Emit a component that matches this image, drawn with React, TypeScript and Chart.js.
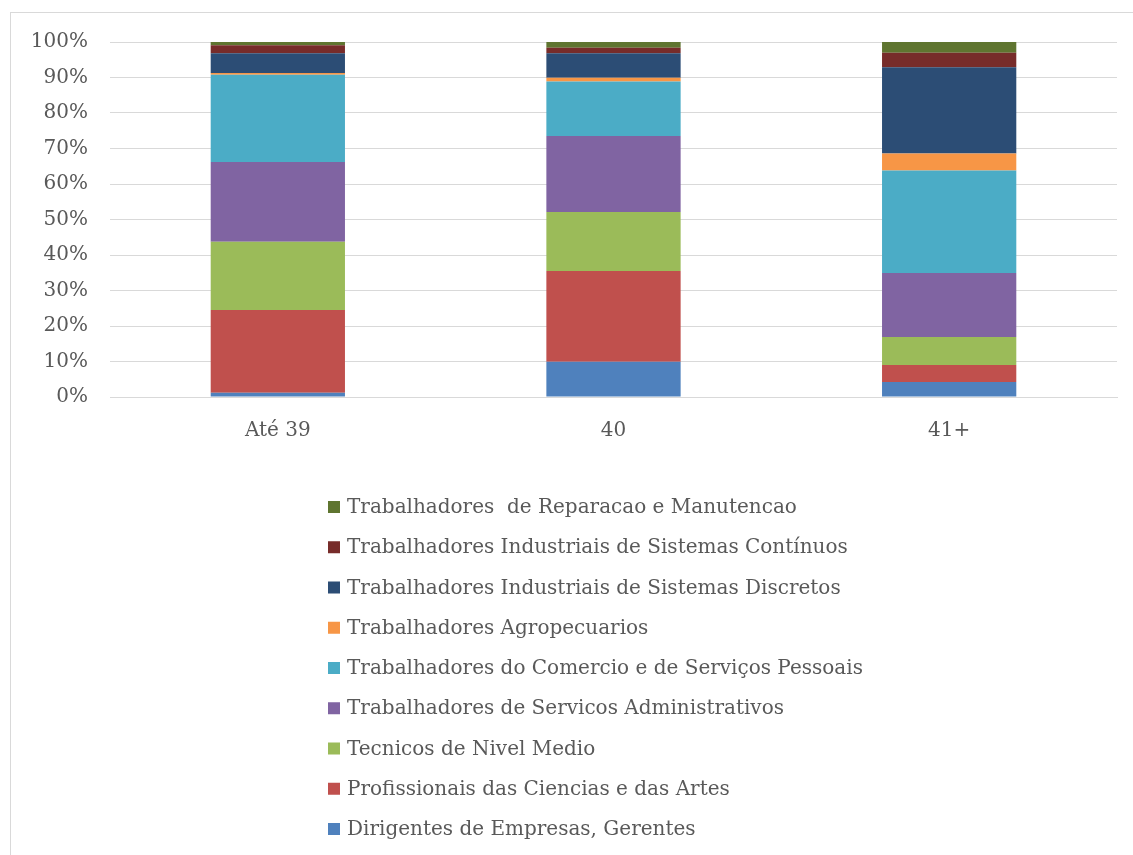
import React, { useEffect, useRef } from "react";
import { Chart, registerables } from "chart.js";

Chart.register(...registerables);

const categories = ["Até 39", "40", "41+"];

const seriesNames = [
  "Dirigentes de Empresas, Gerentes",
  "Profissionais das Ciencias e das Artes",
  "Tecnicos de Nivel Medio",
  "Trabalhadores de Servicos Administrativos",
  "Trabalhadores do Comercio e de Serviços Pessoais",
  "Trabalhadores Agropecuarios",
  "Trabalhadores Industriais de Sistemas Discretos",
  "Trabalhadores Industriais de Sistemas Contínuos",
  "Trabalhadores  de Reparacao e Manutencao",
];

const dirigentes = [1.2, 9.9, 4.2];
const profissionais = [23.3, 25.6, 4.8];
const tecnicos = [19.2, 16.6, 7.9];
const administrativos = [22.5, 21.4, 18.0];
const comercio = [24.6, 15.4, 28.9];
const agropecuarios = [0.5, 1.0, 4.8];
const discretos = [5.5, 6.9, 24.3];
const continuos = [2.3, 1.6, 4.1];
const reparacao = [0.9, 1.6, 3.0];

const seriesValues = [
  dirigentes,
  profissionais,
  tecnicos,
  administrativos,
  comercio,
  agropecuarios,
  discretos,
  continuos,
  reparacao,
];

const seriesColors = [
  "#4F81BD",
  "#C0504D",
  "#9BBB59",
  "#8064A2",
  "#4BACC6",
  "#F79646",
  "#2C4D75",
  "#772C2A",
  "#5F7530",
];

const yTicks = [0, 10, 20, 30, 40, 50, 60, 70, 80, 90, 100];

const FONT = "'DejaVu Serif', serif";
const TEXT_COLOR = "#595959";

const legendPlugin = {
  id: "verticalLegend",
  afterDraw(chart: any) {
    const ctx = chart.ctx;
    ctx.save();
    ctx.font = `20px ${FONT}`;
    ctx.textBaseline = "middle";
    ctx.textAlign = "left";
    const ds = chart.data.datasets;
    const startY = 507;
    const step = 40.25;
    for (let k = 0; k < ds.length; k++) {
      const d = ds[ds.length - 1 - k];
      const y = startY + k * step;
      ctx.fillStyle = d.backgroundColor;
      ctx.fillRect(328, y - 6, 12, 12);
      ctx.fillStyle = TEXT_COLOR;
      ctx.fillText(d.label, 347, y + 1);
    }
    ctx.restore();
  },
};

export default function App() {
  const ref = useRef<HTMLCanvasElement | null>(null);

  useEffect(() => {
    if (!ref.current) return;
    const chart = new Chart(ref.current, {
      type: "bar",
      data: {
        labels: categories,
        datasets: seriesNames.map((name, i) => ({
          label: name,
          data: seriesValues[i],
          backgroundColor: seriesColors[i],
          borderWidth: 0,
          barPercentage: 0.4,
          categoryPercentage: 1,
        })),
      },
      options: {
        animation: false,
        responsive: false,
        maintainAspectRatio: false,
        layout: { padding: { left: 0, right: 16, top: 42, bottom: 398 } },
        plugins: {
          legend: { display: false },
          tooltip: { enabled: false },
        },
        scales: {
          x: {
            stacked: true,
            grid: { display: false, drawTicks: false },
            border: { display: true, color: "#d9d9d9", width: 1 },
            ticks: {
              color: TEXT_COLOR,
              font: { family: FONT, size: 20 },
              padding: 22,
            },
            afterFit: (scale: any) => {
              scale.height = 60;
            },
          },
          y: {
            stacked: true,
            min: 0,
            max: 100,
            afterBuildTicks: (scale: any) => {
              scale.ticks = yTicks.map((v) => ({ value: v }));
            },
            grid: { color: "#d9d9d9", drawTicks: false, lineWidth: 1 },
            border: { display: false },
            ticks: {
              color: TEXT_COLOR,
              font: { family: FONT, size: 20 },
              padding: 22,
              callback: (v: any) => `${v}%`,
            },
            afterFit: (scale: any) => {
              scale.width = 110;
            },
          },
        },
      },
      plugins: [legendPlugin],
    });
    return () => chart.destroy();
  }, []);

  return (
    <div
      style={{
        position: "fixed",
        left: 0,
        top: 0,
        width: 1133,
        height: 855,
        overflow: "hidden",
        background: "#fff",
      }}
    >
      <div
        style={{
          position: "absolute",
          left: 10,
          top: 12,
          width: 1200,
          height: 900,
          border: "1px solid #d9d9d9",
        }}
      />
      <canvas
        ref={ref}
        width={1133}
        height={855}
        style={{ position: "absolute", left: 0, top: 0, width: 1133, height: 855 }}
      />
    </div>
  );
}
